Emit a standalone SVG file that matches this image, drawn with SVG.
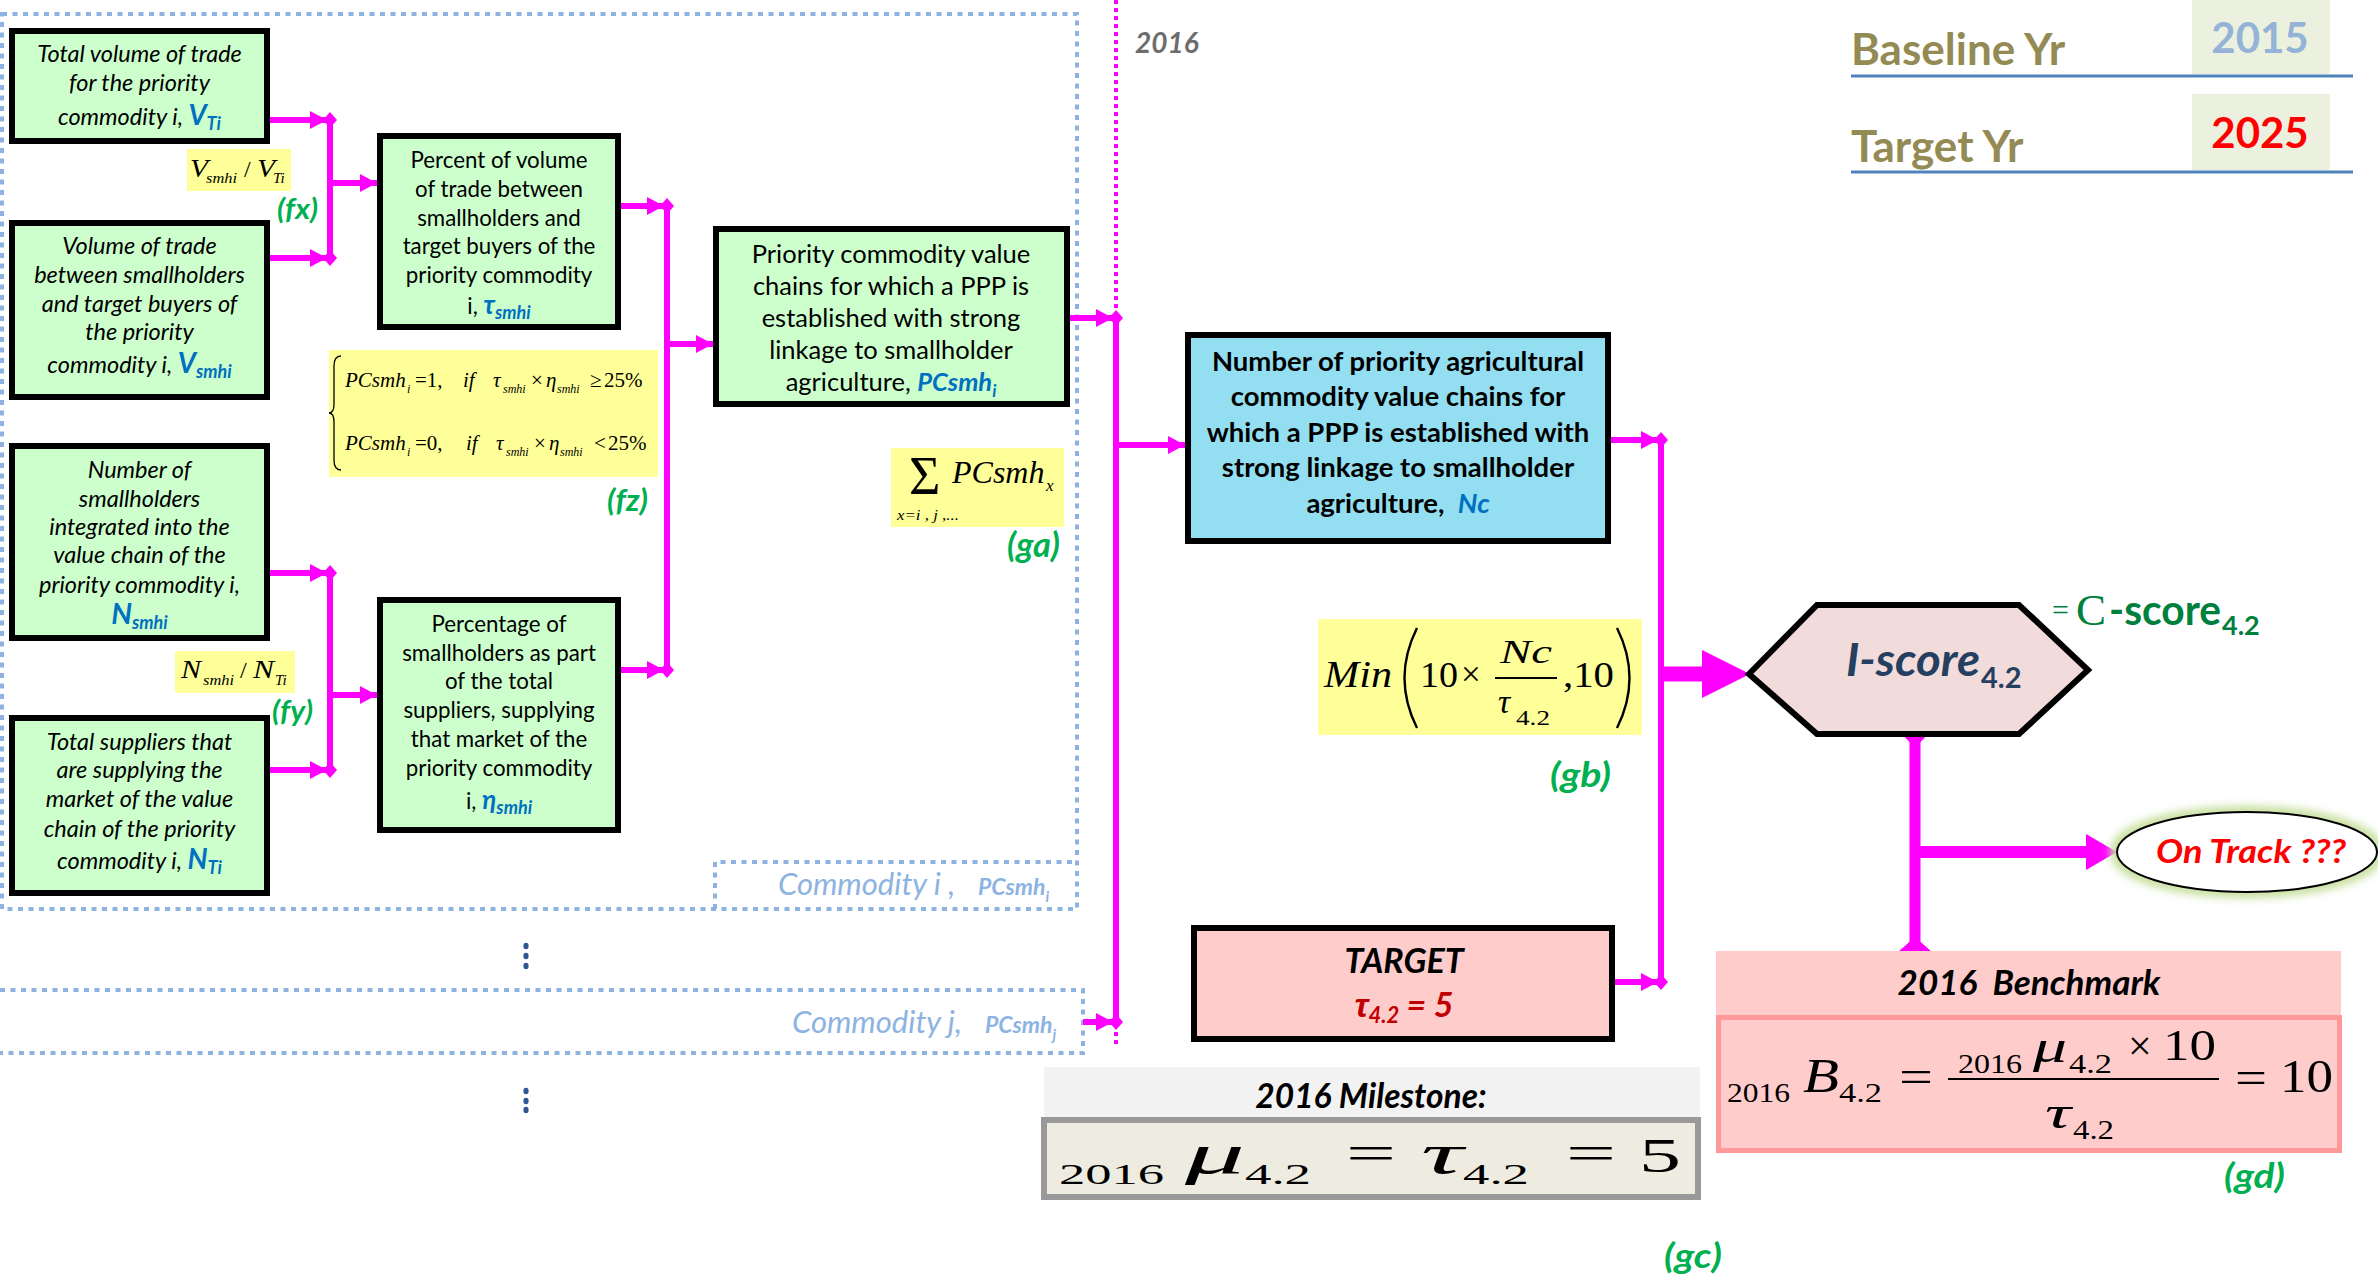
<svg xmlns="http://www.w3.org/2000/svg" width="2378" height="1276" viewBox="0 0 2378 1276">
<defs>
<style>
.gbox{fill:#CCFFCC;stroke:#000;stroke-width:6}
.bbox{fill:#93DFF1;stroke:#000;stroke-width:6}
.pbox{fill:#FFCCCC;stroke:#000;stroke-width:6}
.ybox{fill:#FFFF99}
.dotb{fill:none;stroke:#8DB3E2;stroke-width:4;stroke-dasharray:5 5.5}
.it{font-family:Lato,"Liberation Sans",sans-serif;font-style:italic;font-size:23.5px;fill:#000;text-anchor:middle}
.rg{font-family:Lato,"Liberation Sans",sans-serif;font-size:22.3px;fill:#000;text-anchor:middle}
.rg26{font-family:Lato,"Liberation Sans",sans-serif;font-size:25.5px;fill:#000;text-anchor:middle}
.bd{font-family:Lato,"Liberation Sans",sans-serif;font-weight:bold;font-size:27.5px;fill:#000;text-anchor:middle}
.sb{font-family:Lato,"Liberation Sans",sans-serif;font-weight:bold;font-style:italic}
.v{fill:#0070C0;font-weight:bold;font-style:italic}
.m{font-family:"Liberation Serif","Times New Roman",serif;font-style:italic;fill:#000}
.mr{font-family:"Liberation Serif","Times New Roman",serif;fill:#000}
.lbl{font-family:Lato,"Liberation Sans",sans-serif;font-weight:bold;font-style:italic;fill:#00B050}
.con{fill:none;stroke:#FF00FF;stroke-width:6}
.head{fill:#FF00FF}
.hd{font-family:Lato,"Liberation Sans",sans-serif;font-weight:bold}
</style>
<marker id="aj" markerUnits="userSpaceOnUse" markerWidth="40" markerHeight="30" refX="30" refY="15" orient="auto" viewBox="0 0 40 30">
<path d="M10,6 L27,15 L10,24 Z M23,15 L30,7 L37,15 L30,23 Z" fill="#FF00FF"/>
</marker>
<marker id="ab" markerUnits="userSpaceOnUse" markerWidth="20" markerHeight="20" refX="18" refY="10" orient="auto" viewBox="0 0 20 20">
<path d="M1,1 L18,10 L1,19 Z" fill="#FF00FF"/>
</marker>
<filter id="glow" x="-20%" y="-40%" width="140%" height="180%">
<feGaussianBlur stdDeviation="4"/>
</filter>
</defs>
<rect width="2378" height="1276" fill="#FFFFFF"/>

<g id="containers">
<rect class="dotb" x="2" y="14" width="1075" height="895"/>
<path class="dotb" d="M715,909 V862 H1077"/>
<path class="dotb" d="M0,990 H1083 V1053 H0"/>
<text x="778" y="895" font-family="Lato, 'Liberation Sans', sans-serif" font-style="italic" font-size="31" fill="#8DB3E2">Commodity i ,</text>
<text x="978" y="895" class="sb" font-size="23" fill="#8DB3E2">PCsmh<tspan font-size="15" dy="7">i</tspan></text>
<text x="792" y="1033" font-family="Lato, 'Liberation Sans', sans-serif" font-style="italic" font-size="31" fill="#8DB3E2">Commodity j,</text>
<text x="985" y="1033" class="sb" font-size="23" fill="#8DB3E2">PCsmh<tspan font-size="15" dy="7">j</tspan></text>
<g fill="#2F5597">
<ellipse cx="526" cy="946" rx="2.6" ry="3.2"/><ellipse cx="526" cy="956" rx="2.6" ry="3.2"/><ellipse cx="526" cy="966" rx="2.6" ry="3.2"/>
<ellipse cx="526" cy="1091" rx="2.6" ry="3.2"/><ellipse cx="526" cy="1101" rx="2.6" ry="3.2"/><ellipse cx="526" cy="1110" rx="2.6" ry="3.2"/>
</g>
</g>

<g id="connectors">
<path class="con" d="M270,120 H330" marker-end="url(#aj)"/>
<path class="con" d="M270,258 H330" marker-end="url(#aj)"/>
<path class="con" d="M330,120 V258"/>
<path class="con" d="M330,183 H377" marker-end="url(#ab)"/>
<path class="con" d="M270,573 H330" marker-end="url(#aj)"/>
<path class="con" d="M270,770 H330" marker-end="url(#aj)"/>
<path class="con" d="M330,573 V770"/>
<path class="con" d="M330,695 H377" marker-end="url(#ab)"/>
<path class="con" d="M621,206 H667" marker-end="url(#aj)"/>
<path class="con" d="M621,670 H667" marker-end="url(#aj)"/>
<path class="con" d="M667,206 V670"/>
<path class="con" d="M667,344 H713" marker-end="url(#ab)"/>
<path d="M1116,0 V1048" fill="none" stroke="#FF00FF" stroke-width="4" stroke-dasharray="4 4"/>
<path class="con" d="M1070,318 H1116" marker-end="url(#aj)"/>
<path class="con" d="M1083,1022 H1116" marker-end="url(#aj)"/>
<path class="con" d="M1116,318 V1022"/>
<path class="con" d="M1116,445 H1185" marker-end="url(#ab)"/>
<path class="con" d="M1611,440 H1661" marker-end="url(#aj)"/>
<path class="con" d="M1615,982 H1661" marker-end="url(#aj)"/>
<path class="con" d="M1661,440 V982" stroke-width="7"/>
<path d="M1661,674 H1706" stroke="#FF00FF" stroke-width="15"/>
<polygon class="head" points="1702,650 1750,674 1702,698"/>
<path d="M1915,736 V950" stroke="#FF00FF" stroke-width="11"/>
<polygon class="head" points="1902,734 1928,734 1915,748"/>
<polygon class="head" points="1898,952 1932,952 1915,937"/>
<path d="M1915,852 H2090" stroke="#FF00FF" stroke-width="12"/>
<polygon class="head" points="2086,834 2117,852 2086,870"/>
</g>

<g id="node-total-volume">
<rect class="gbox" x="12" y="31" width="255" height="110"/>
<text class="it" x="139.5" y="62">Total volume of trade</text>
<text class="it" x="139.5" y="91">for the priority</text>
<text class="it" x="139.5" y="125">commodity i, <tspan class="v" font-size="28">V</tspan><tspan class="v" font-size="18" dy="5">Ti</tspan></text>
</g>

<g id="node-volume-smallholders">
<rect class="gbox" x="12" y="223" width="255" height="174"/>
<text class="it" x="139.5" y="254">Volume of trade</text>
<text class="it" x="139.5" y="283">between smallholders</text>
<text class="it" x="139.5" y="312">and target buyers of</text>
<text class="it" x="139.5" y="340">the priority</text>
<text class="it" x="139.5" y="373">commodity i, <tspan class="v" font-size="28">V</tspan><tspan class="v" font-size="18" dy="5">smhi</tspan></text>
</g>

<g id="node-number-smallholders">
<rect class="gbox" x="12" y="446" width="255" height="192"/>
<text class="it" x="139.5" y="478">Number of</text>
<text class="it" x="139.5" y="507">smallholders</text>
<text class="it" x="139.5" y="535">integrated into the</text>
<text class="it" x="139.5" y="563">value chain of the</text>
<text class="it" x="139.5" y="593">priority commodity i,</text>
<text class="it" x="139.5" y="624"><tspan class="v" font-size="29">N</tspan><tspan class="v" font-size="18" dy="5">smhi</tspan></text>
</g>

<g id="node-total-suppliers">
<rect class="gbox" x="12" y="718" width="255" height="175"/>
<text class="it" x="139.5" y="750">Total suppliers that</text>
<text class="it" x="139.5" y="778">are supplying the</text>
<text class="it" x="139.5" y="807">market of the value</text>
<text class="it" x="139.5" y="837">chain of the priority</text>
<text class="it" x="139.5" y="869">commodity i, <tspan class="v" font-size="28">N</tspan><tspan class="v" font-size="18" dy="5">Ti</tspan></text>
</g>

<g id="node-percent-volume">
<rect class="gbox" x="380" y="136" width="238" height="191"/>
<text class="rg" x="499" y="168">Percent of volume</text>
<text class="rg" x="499" y="197">of trade between</text>
<text class="rg" x="499" y="226">smallholders and</text>
<text class="rg" x="499" y="254">target buyers of the</text>
<text class="rg" x="499" y="283">priority commodity</text>
<text class="rg" x="499" y="314">i, <tspan class="v" font-size="26">τ</tspan><tspan class="v" font-size="18" dy="5">smhi</tspan></text>
</g>

<g id="node-percentage-smallholders">
<rect class="gbox" x="380" y="600" width="238" height="230"/>
<text class="rg" x="499" y="632">Percentage of</text>
<text class="rg" x="499" y="661">smallholders as part</text>
<text class="rg" x="499" y="689">of the total</text>
<text class="rg" x="499" y="718">suppliers, supplying</text>
<text class="rg" x="499" y="747">that market of the</text>
<text class="rg" x="499" y="776">priority commodity</text>
<text class="rg" x="499" y="809">i, <tspan class="v" font-size="26">η</tspan><tspan class="v" font-size="18" dy="5">smhi</tspan></text>
</g>

<g id="label-fx">
<rect class="ybox" x="187" y="149" width="104" height="42"/>
<text class="m" x="190" y="177" font-size="26" textLength="18" lengthAdjust="spacingAndGlyphs">V</text>
<text class="m" x="206" y="183" font-size="15" textLength="31" lengthAdjust="spacingAndGlyphs">smhi</text>
<text class="mr" x="244" y="177" font-size="24">/</text>
<text class="m" x="257" y="177" font-size="26" textLength="18" lengthAdjust="spacingAndGlyphs">V</text>
<text class="m" x="273" y="183" font-size="15">Ti</text>
<text class="lbl" x="277" y="219" font-size="28" textLength="41" lengthAdjust="spacingAndGlyphs">(fx)</text>
</g>

<g id="label-fy">
<rect class="ybox" x="175" y="651" width="120" height="42"/>
<text class="m" x="181" y="678" font-size="26" textLength="20" lengthAdjust="spacingAndGlyphs">N</text>
<text class="m" x="203" y="685" font-size="15" textLength="31" lengthAdjust="spacingAndGlyphs">smhi</text>
<text class="mr" x="240" y="678" font-size="24">/</text>
<text class="m" x="253" y="678" font-size="26" textLength="21" lengthAdjust="spacingAndGlyphs">N</text>
<text class="m" x="275" y="685" font-size="15">Ti</text>
<text class="lbl" x="272" y="721" font-size="28" textLength="41" lengthAdjust="spacingAndGlyphs">(fy)</text>
</g>

<g id="label-fz">
<rect class="ybox" x="329" y="350" width="329" height="127"/>
<path d="M341,356 Q334,356 334,366 L334,404 Q334,413 329,413 Q334,413 334,422 L334,460 Q334,470 341,470" fill="none" stroke="#000" stroke-width="1.3"/>
<text class="m" x="345" y="387" font-size="21">PCsmh</text>
<text class="m" x="407" y="393" font-size="12">i</text>
<text class="mr" x="415" y="387" font-size="21">=1,</text>
<text class="m" x="463" y="387" font-size="21">if</text>
<text class="m" x="493" y="387" font-size="21">τ</text>
<text class="m" x="503" y="393" font-size="12">smhi</text>
<text class="mr" x="531" y="387" font-size="21">×</text>
<text class="m" x="546" y="387" font-size="21">η</text>
<text class="m" x="557" y="393" font-size="12">smhi</text>
<text class="mr" x="590" y="387" font-size="21">≥</text>
<text class="mr" x="604" y="387" font-size="21">25%</text>
<text class="m" x="345" y="450" font-size="21">PCsmh</text>
<text class="m" x="407" y="456" font-size="12">i</text>
<text class="mr" x="415" y="450" font-size="21">=0,</text>
<text class="m" x="466" y="450" font-size="21">if</text>
<text class="m" x="496" y="450" font-size="21">τ</text>
<text class="m" x="506" y="456" font-size="12">smhi</text>
<text class="mr" x="534" y="450" font-size="21">×</text>
<text class="m" x="549" y="450" font-size="21">η</text>
<text class="m" x="560" y="456" font-size="12">smhi</text>
<text class="mr" x="594" y="450" font-size="21">&lt;</text>
<text class="mr" x="608" y="450" font-size="21">25%</text>
<text class="lbl" x="607" y="511" font-size="31" textLength="41" lengthAdjust="spacingAndGlyphs">(fz)</text>
</g>

<g id="node-priority-value-chains">
<rect class="gbox" x="716" y="229" width="351" height="175"/>
<text class="rg26" x="891" y="263">Priority commodity value</text>
<text class="rg26" x="891" y="295">chains for which a PPP is</text>
<text class="rg26" x="891" y="327">established with strong</text>
<text class="rg26" x="891" y="359">linkage to smallholder</text>
<text class="rg26" x="891" y="391">agriculture, <tspan class="v">PCsmh</tspan><tspan class="v" font-size="17" dy="6">i</tspan></text>
</g>

<g id="label-ga">
<rect class="ybox" x="891" y="448" width="173" height="79"/>
<text class="mr" x="909" y="494" font-size="54">Σ</text>
<text class="m" x="952" y="483" font-size="32">PCsmh</text>
<text class="m" x="1046" y="491" font-size="17">x</text>
<text class="m" x="897" y="520" font-size="15" textLength="62" lengthAdjust="spacingAndGlyphs">x=i , j ,...</text>
<text class="lbl" x="1007" y="557" font-size="35" textLength="53" lengthAdjust="spacingAndGlyphs">(ga)</text>
</g>

<g id="node-nc">
<rect class="bbox" x="1188" y="335" width="420" height="206"/>
<text class="bd" x="1398" y="371">Number of priority agricultural</text>
<text class="bd" x="1398" y="406">commodity value chains for</text>
<text class="bd" x="1398" y="442">which a PPP is established with</text>
<text class="bd" x="1398" y="477">strong linkage to smallholder</text>
<text class="bd" x="1398" y="513">agriculture,&#160; <tspan class="v">Nc</tspan></text>
</g>

<g id="label-gb">
<rect class="ybox" x="1318" y="619" width="324" height="116"/>
<text class="m" x="1324" y="687" font-size="37" textLength="68" lengthAdjust="spacingAndGlyphs">Min</text>
<path d="M1417,628 Q1392,678 1417,728" fill="none" stroke="#000" stroke-width="2.4"/>
<path d="M1617,628 Q1642,678 1617,728" fill="none" stroke="#000" stroke-width="2.4"/>
<text class="mr" x="1420" y="687" font-size="35" textLength="38" lengthAdjust="spacingAndGlyphs">10</text>
<text class="mr" x="1461" y="686" font-size="35">×</text>
<text class="m" x="1500" y="663" font-size="34" textLength="52" lengthAdjust="spacingAndGlyphs">Nc</text>
<line x1="1495" y1="678" x2="1557" y2="678" stroke="#000" stroke-width="2"/>
<text class="m" x="1498" y="713" font-size="34">τ</text>
<text class="mr" x="1516" y="725" font-size="22" textLength="34" lengthAdjust="spacingAndGlyphs">4.2</text>
<text class="mr" x="1563" y="687" font-size="35" textLength="51" lengthAdjust="spacingAndGlyphs">,10</text>
<text class="lbl" x="1550" y="787" font-size="35" textLength="61" lengthAdjust="spacingAndGlyphs">(gb)</text>
</g>

<g id="node-iscore">
<polygon points="1749,674 1817,605 2019,605 2088,670 2019,734 1817,734" fill="#F2DCDB" stroke="#000" stroke-width="6" stroke-linejoin="miter"/>
<text x="1846" y="676" font-family="Lato, 'Liberation Sans', sans-serif" font-style="italic" font-weight="bold" font-size="46" fill="#243F60" textLength="134" lengthAdjust="spacingAndGlyphs">I-score</text>
<text x="1981" y="688" font-family="Lato, 'Liberation Sans', sans-serif" font-weight="bold" font-size="29" fill="#243F60">4.2</text>
<text x="2052" y="620" font-family="'Liberation Serif', serif" font-size="30" fill="#00803C">=</text>
<text x="2076" y="625" font-family="'Liberation Serif', serif" font-size="45" fill="#00803C">C</text>
<text x="2109" y="625" font-family="Lato, 'Liberation Sans', sans-serif" font-weight="bold" font-size="42" fill="#00803C" textLength="112" lengthAdjust="spacingAndGlyphs">-score</text>
<text x="2222" y="635" font-family="Lato, 'Liberation Sans', sans-serif" font-weight="bold" font-size="27" fill="#00803C">4.2</text>
</g>

<g id="node-ontrack">
<ellipse cx="2247" cy="852" rx="131" ry="40" fill="none" stroke="#C4DF9B" stroke-width="12" filter="url(#glow)"/>
<ellipse cx="2247" cy="852" rx="130" ry="40" fill="#FFFFFF" stroke="#000" stroke-width="2"/>
<text x="2156" y="863" class="sb" font-size="33" fill="#FF0000" textLength="190" lengthAdjust="spacingAndGlyphs">On Track ???</text>
</g>

<g id="node-target">
<rect class="pbox" x="1194" y="928" width="418" height="111"/>
<text class="sb" x="1404" y="973" font-size="34" text-anchor="middle">TARGET</text>
<text class="sb" x="1404" y="1017" font-size="34" text-anchor="middle" fill="#C00000"><tspan font-family="'Liberation Sans', sans-serif">τ</tspan><tspan font-size="22" dy="6">4.2</tspan><tspan dy="-6"> = 5</tspan></text>
</g>

<g id="node-milestone">
<rect x="1044" y="1067" width="656" height="50" fill="#F2F2F2"/>
<text class="sb" x="1371" y="1108" font-size="33.5" text-anchor="middle">2016 Milestone:</text>
<rect x="1044" y="1120" width="654" height="77" fill="#EEECE1" stroke="#999999" stroke-width="6"/>
<text class="mr" x="1059" y="1184" font-size="29" textLength="105" lengthAdjust="spacingAndGlyphs">2016</text>
<text class="m" x="1185" y="1173" font-size="56" textLength="60" lengthAdjust="spacingAndGlyphs">μ</text>
<text class="mr" x="1245" y="1184" font-size="30" textLength="66" lengthAdjust="spacingAndGlyphs">4.2</text>
<text class="mr" x="1346" y="1170" font-size="50" textLength="50" lengthAdjust="spacingAndGlyphs">=</text>
<text class="m" x="1421" y="1173" font-size="56" textLength="42" lengthAdjust="spacingAndGlyphs">τ</text>
<text class="mr" x="1463" y="1184" font-size="30" textLength="66" lengthAdjust="spacingAndGlyphs">4.2</text>
<text class="mr" x="1566" y="1170" font-size="50" textLength="50" lengthAdjust="spacingAndGlyphs">=</text>
<text class="mr" x="1639" y="1172" font-size="49" textLength="42" lengthAdjust="spacingAndGlyphs">5</text>
<text class="lbl" x="1664" y="1268" font-size="35" textLength="58" lengthAdjust="spacingAndGlyphs">(gc)</text>
</g>

<g id="node-benchmark">
<rect x="1716" y="951" width="625" height="64" fill="#FFCCCC"/>
<text class="sb" x="2029" y="995" font-size="35" text-anchor="middle">2016&#160; Benchmark</text>
<rect x="1718.5" y="1017.5" width="621" height="133" fill="#FFCCCC" stroke="#FF9999" stroke-width="5"/>
<text class="mr" x="1727" y="1102" font-size="27" textLength="63" lengthAdjust="spacingAndGlyphs">2016</text>
<text class="m" x="1803" y="1092" font-size="48" textLength="36" lengthAdjust="spacingAndGlyphs">B</text>
<text class="mr" x="1839" y="1102" font-size="27" textLength="43" lengthAdjust="spacingAndGlyphs">4.2</text>
<text class="mr" x="1899" y="1092" font-size="46" textLength="34" lengthAdjust="spacingAndGlyphs">=</text>
<line x1="1948" y1="1079" x2="2219" y2="1079" stroke="#000" stroke-width="2"/>
<text class="mr" x="1958" y="1073" font-size="27" textLength="64" lengthAdjust="spacingAndGlyphs">2016</text>
<text class="m" x="2033" y="1062" font-size="46" textLength="34" lengthAdjust="spacingAndGlyphs">μ</text>
<text class="mr" x="2069" y="1073" font-size="27" textLength="43" lengthAdjust="spacingAndGlyphs">4.2</text>
<text class="mr" x="2128" y="1060" font-size="42">×</text>
<text class="mr" x="2163" y="1060" font-size="45" textLength="53" lengthAdjust="spacingAndGlyphs">10</text>
<text class="m" x="2045" y="1128" font-size="46" textLength="26" lengthAdjust="spacingAndGlyphs">τ</text>
<text class="mr" x="2073" y="1139" font-size="27" textLength="41" lengthAdjust="spacingAndGlyphs">4.2</text>
<text class="mr" x="2235" y="1093" font-size="46" textLength="32" lengthAdjust="spacingAndGlyphs">=</text>
<text class="mr" x="2280" y="1092" font-size="47" textLength="53" lengthAdjust="spacingAndGlyphs">10</text>
<text class="lbl" x="2224" y="1188" font-size="35" textLength="61" lengthAdjust="spacingAndGlyphs">(gd)</text>
</g>

<g id="years">
<text x="1135" y="53" class="sb" font-size="28" fill="#6D6D6D">2016</text>
<rect x="2192" y="0" width="138" height="74" fill="#EBF1DE"/>
<rect x="2192" y="94" width="138" height="76" fill="#EBF1DE"/>
<line x1="1851" y1="76" x2="2353" y2="76" stroke="#4F81BD" stroke-width="3"/>
<line x1="1851" y1="172" x2="2353" y2="172" stroke="#4F81BD" stroke-width="3"/>
<text x="1851" y="65" class="hd" font-size="44" fill="#948A54">Baseline Yr</text>
<text x="1851" y="162" class="hd" font-size="44" fill="#948A54">Target Yr</text>
<text x="2260" y="53" class="hd" font-size="42" fill="#95B3D7" text-anchor="middle">2015</text>
<text x="2260" y="148" class="hd" font-size="42" fill="#FF0000" text-anchor="middle">2025</text>
</g>
</svg>
